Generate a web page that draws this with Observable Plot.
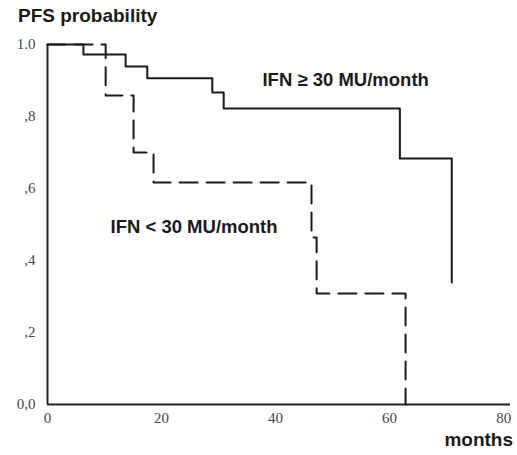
<!DOCTYPE html>
<html>
<head>
<meta charset="utf-8">
<script src="https://cdn.jsdelivr.net/npm/d3@7"></script>
<script src="https://cdn.jsdelivr.net/npm/@observablehq/plot@0.6"></script>
<style>
  html, body { margin: 0; padding: 0; background: #fff; }
  #wrap { width: 517px; height: 455px; overflow: hidden; }
  #title { font: bold 19px "Liberation Sans", Arial, sans-serif; color: #1a1a1a; height: 30px; line-height: 32px; padding-left: 18px; white-space: nowrap; }
  #chart svg { display: block; }
  #cap { font: bold 19px "Liberation Sans", Arial, sans-serif; color: #1a1a1a; text-align: right; padding-right: 4px; line-height: 20px; }
</style>
</head>
<body>
<div id="wrap">
  <div id="title">PFS probability</div>
  <div id="chart"></div>
  <div id="cap">months</div>
</div>
<script>
// Solid curve: IFN >= 30 MU/month (step function, Kaplan–Meier)
const highMonths = [0, 6.3, 13.7, 17.5, 28.9, 30.9, 61.8, 70.9];
const highProb   = [1.0, 0.972, 0.939, 0.906, 0.867, 0.822, 0.683, 0.339];
// Dashed curve: IFN < 30 MU/month
const lowMonths = [0, 10.2, 15.1, 18.6, 46.3, 47.2, 62.8];
const lowProb   = [1.0, 0.858, 0.70, 0.617, 0.464, 0.308, 0.0];
// Axis ticks
const xTicks = [0, 20, 40, 60, 80];
const xTickLabels = ["0", "20", "40", "60", "80"];
const yTicks = [0, 0.2, 0.4, 0.6, 0.8, 1.0];
const yTickLabels = ["0,0", ",2", ",4", ",6", ",8", "1.0"];
// Annotations
const annoText = ["IFN \u2265 30 MU/month", "IFN < 30 MU/month"];
const annoMonth = [37.7, 11.05];
const annoProb = [0.9, 0.494];

const high = highMonths.map((m, i) => ({month: m, prob: highProb[i]}));
const low = lowMonths.map((m, i) => ({month: m, prob: lowProb[i]}));
const annos = annoText.map((t, i) => ({text: t, month: annoMonth[i], prob: annoProb[i]}));
const xLab = new Map(xTicks.map((t, i) => [t, xTickLabels[i]]));
const yLab = new Map(yTicks.map((t, i) => [t, yTickLabels[i]]));

const chart = Plot.plot({
  width: 517,
  height: 400,
  marginLeft: 47,
  marginRight: 7,
  marginTop: 14,
  marginBottom: 26,
  style: {background: "#fff", color: "#444", fontFamily: "'Liberation Serif', 'DejaVu Serif', serif", fontSize: "15px", overflow: "visible"},
  x: {domain: [0, 81.2], ticks: xTicks, tickFormat: d => xLab.get(d), tickSize: 0, tickPadding: 8, label: null},
  y: {domain: [0, 1], ticks: yTicks, tickFormat: d => yLab.get(d), tickSize: 0, tickPadding: 12, label: null},
  marks: [
    Plot.ruleY([0], {x1: 0, x2: 81.2, stroke: "#222", strokeWidth: 2}),
    Plot.ruleX([0], {y1: 0, y2: 1, stroke: "#222", strokeWidth: 2}),
    Plot.line(high, {x: "month", y: "prob", curve: "step-after", stroke: "#1a1a1a", strokeWidth: 2}),
    Plot.line(low, {x: "month", y: "prob", curve: "step-after", stroke: "#1a1a1a", strokeWidth: 2, strokeDasharray: "18,9"}),
    Plot.text(annos, {x: "month", y: "prob", text: "text", textAnchor: "start", fill: "#1a1a1a", fontFamily: "'Liberation Sans', Arial, sans-serif", fontWeight: "bold", fontSize: 18.5})
  ]
});
document.getElementById("chart").appendChild(chart);
</script>
</body>
</html>
